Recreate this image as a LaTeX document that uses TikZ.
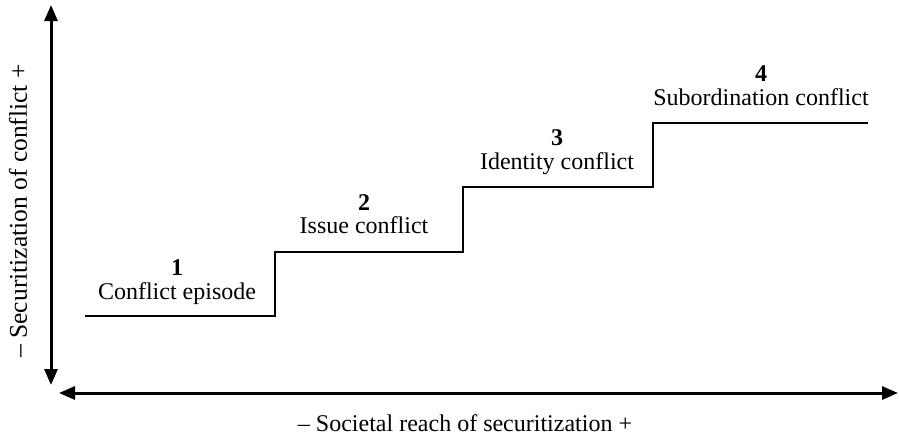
\documentclass[tikz,border=0pt]{standalone}
\usepackage{fontspec}
\setmainfont{Liberation Serif}
\usetikzlibrary{arrows.meta}
\begin{document}
\begin{tikzpicture}[x=1pt,y=-1pt,
  axis/.style={line width=3pt,{Triangle[length=16pt,width=13pt]}-{Triangle[length=16pt,width=13pt]}},
  stair/.style={line width=2.5pt},
  lbl/.style={font=\fontsize{24}{26}\selectfont, inner sep=0pt, anchor=base},
  num/.style={font=\fontsize{24}{26}\selectfont\bfseries, inner sep=0pt, anchor=base},
  axlbl/.style={font=\fontsize{24}{26}\selectfont, inner sep=0pt}]
\useasboundingbox (0,0) rectangle (899,439);
% axes
\coordinate (ytop) at (51,5);
\coordinate (ybot) at (51,385);
\coordinate (xleft) at (59,393);
\coordinate (xright) at (898,393);
\draw[axis] (ybot) -- (ytop);
\draw[axis] (xleft) -- (xright);
% stairs
\coordinate (s0) at (85,316);
\coordinate (s1) at (275,316);
\coordinate (s2) at (275,252);
\coordinate (s3) at (463,252);
\coordinate (s4) at (463,187);
\coordinate (s5) at (653,187);
\coordinate (s6) at (653,123);
\coordinate (s7) at (868,123);
\draw[stair] (s0) -- (s1) -- (s2) -- (s3) -- (s4) -- (s5) -- (s6) -- (s7);
% labels
\node[num] (n1) at (177,275) {1};
\node[lbl] (t1) at (177,299) {Conflict episode};
\node[num] (n2) at (364,210) {2};
\node[lbl] (t2) at (364,233) {Issue conflict};
\node[num] (n3) at (557,145) {3};
\node[lbl] (t3) at (557,169) {Identity conflict};
\node[num] (n4) at (761,81) {4};
\node[lbl] (t4) at (761,105) {Subordination conflict};
% axis labels
\node[axlbl, font=\fontsize{25.5}{27}\selectfont, rotate=90] (ylab) at (18,211) {– Securitization of conflict +};
\node[axlbl] (xlab) at (465,423) {– Societal reach of securitization +};
\end{tikzpicture}
\end{document}
